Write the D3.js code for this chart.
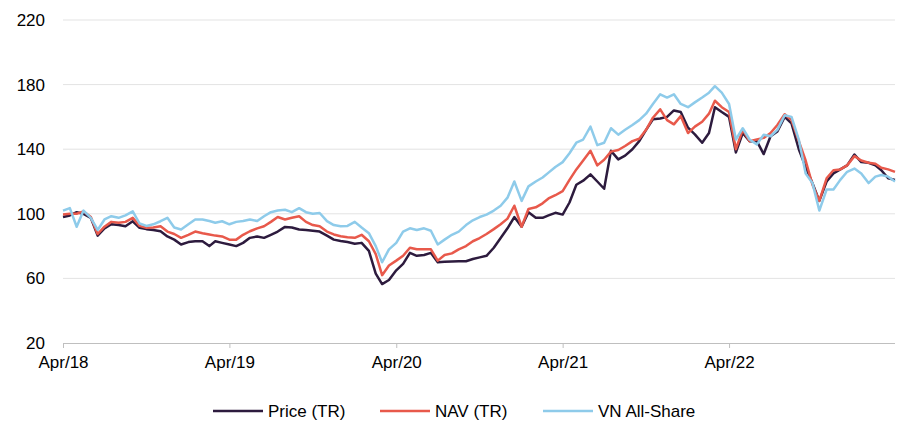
<!DOCTYPE html>
<html><head><meta charset="utf-8">
<script src="https://d3js.org/d3.v7.min.js"></script>
<style>body{margin:0;background:#fff;}svg{display:block;font-family:"Liberation Sans",Arial,sans-serif;}</style>
</head><body>
<svg id="chart" width="900" height="421"></svg>
<script>
// Half-monthly sample points from 1 Apr 2018 to 31 Mar 2023
const startDate = "2018-04-01";
const endDate = "2023-03-31";
const priceTR = [98,99,101,100,97.5,86.5,91,93.5,93,92.3,95.4,91.3,90.5,90,89.2,86,84,81,82.5,83,
  83,80,83,82,81,80,82,85.1,86,85.1,87,89,91.9,91.5,90.3,90,89.5,89,86.5,84,
  83.2,82.5,81.5,82,77,63,56.5,59,65,69,75.8,74,74.5,75.8,70,70.3,70.5,70.6,70.6,72,
  73,74,79,85,91,98,92,101,97.5,97.5,99,100.6,99.5,107,118,120.5,124.4,120,115.5,139,
  133.7,136,140,145,152,158.5,159,160,164,163,153.3,149.2,144,150,166,163,160,138,150,145,
  145,137,148,151,160,156,140,129,119,108,120,125,127.5,130,136.7,132,131.6,130,127,122,121];
const navTR = [99.5,100,100,101.5,98,87.5,92,95,94.5,95,97.5,92.5,91.3,91.5,92.3,89,87.5,85.1,87,89,
  88,87.2,86.5,86,84,84,87,89.2,91,92.3,95,98,96.5,97.5,98.5,95,93,92.3,89,87.2,
  86.1,85.5,85.1,87,83,75,62,68,71,74,79,78,78,78,71,74.5,75.5,78,80,83,
  85,87.5,90.5,93.5,97,105,92,103,104,106.5,109.5,111.5,114,121,127.5,133,139,130,133.5,138.5,
  139.5,142,145,146.5,152,159.5,164.7,158,155.4,160.5,150,154,157,162,170,166,163,140,152,145,
  146,147,150,155,161.6,158,145,133,118,108,122,127,127.5,130,135.7,133,131.6,131,128.5,127.5,126];
const vnAllShare = [102,103.5,92,102,97.5,90,96.5,98.5,97.5,99,101.5,94,92.5,93.5,95.4,97.5,91.5,90.3,93.5,96.5,
  96.5,95.5,94.5,95.4,93.5,95,95.5,96.5,95.5,98.5,101,102,102.5,101,103.5,101,100,100.5,95.5,93,
  92.3,92.5,95,91.5,88,80,70,78,82,89,91,90,91,89.5,81,84,87,89,93,96,
  98,99.5,102,105,110,120,108,117,120,122.5,125.5,129,132,137.5,144,146,154,142.5,144,153,
  149,152,155,158,162,168,174,172,174,168,166,169,172,175,179,175,168,146,153,146,
  143,149,148,152,161,160,146,125,119,102,115,115,121,126,128,125,119,123,124,123,120];
const yTicks = [20,60,100,140,180,220];
const xTickLabels = ["Apr/18","Apr/19","Apr/20","Apr/21","Apr/22"];
const seriesNames = ["Price (TR)","NAV (TR)","VN All-Share"];
const seriesColors = ["#2d1b3e","#e8594b","#8ecbea"];

// build dates
const parse = d3.timeParse("%Y-%m-%d");
const t0 = parse(startDate), t1 = parse(endDate);
const dates = priceTR.map((_, i) => {
  if (i === priceTR.length - 1) return t1;
  const m = Math.floor(i / 2);
  return new Date(t0.getFullYear(), t0.getMonth() + m, (i % 2) ? 16 : 1);
});
const series = [priceTR, navTR, vnAllShare];

const svg = d3.select("#chart");
const margin = {left: 63, right: 5, top: 20, bottom: 78};
const W = 900, H = 421;
const x = d3.scaleTime().domain([t0, t1]).range([margin.left, W - margin.right]);
const y = d3.scaleLinear().domain([20, 220]).range([H - margin.bottom, margin.top]);

// gridlines
svg.append("g").selectAll("line").data(yTicks.filter(v => v !== 20)).join("line")
  .attr("x1", margin.left).attr("x2", W - margin.right)
  .attr("y1", d => y(d)).attr("y2", d => y(d))
  .attr("stroke", "#e3e3e3").attr("stroke-width", 1);

// y axis
const yAxis = svg.append("g").attr("transform", `translate(${margin.left},0)`)
  .call(d3.axisLeft(y).tickValues(yTicks).tickSize(0).tickPadding(18));
yAxis.select(".domain").remove();
yAxis.selectAll("text").attr("font-size", 17).attr("fill", "#000")
  .attr("font-family", "Liberation Sans, Arial, sans-serif");

// x axis
const xTickDates = xTickLabels.map((_, i) => new Date(2018 + i, 3, 1));
const xAxis = svg.append("g").attr("transform", `translate(0,${y(20)})`)
  .call(d3.axisBottom(x).tickValues(xTickDates).tickSize(5).tickPadding(8)
    .tickFormat((d, i) => xTickLabels[i]));
xAxis.select(".domain").attr("stroke", "#bfbfbf").attr("d", `M${margin.left},0.5H${W - margin.right}`);
xAxis.selectAll(".tick line").attr("stroke", "#bfbfbf");
xAxis.selectAll("text").attr("font-size", 17).attr("fill", "#000")
  .attr("font-family", "Liberation Sans, Arial, sans-serif");

// lines
const line = d3.line().x((d, i) => x(dates[i])).y(d => y(d)).curve(d3.curveLinear);
svg.append("g").selectAll("path").data(series).join("path")
  .attr("d", d => line(d)).attr("fill", "none")
  .attr("stroke", (d, i) => seriesColors[i]).attr("stroke-width", 2.5)
  .attr("stroke-linejoin", "round");

// legend
const legX = [213, 380, 543];
const lg = svg.append("g").selectAll("g").data(seriesNames).join("g")
  .attr("transform", (d, i) => `translate(${legX[i]},411)`);
lg.append("line").attr("x1", 0).attr("x2", 50).attr("y1", 0).attr("y2", 0)
  .attr("stroke", (d, i) => seriesColors[i]).attr("stroke-width", 2.5);
lg.append("text").attr("x", 55).attr("y", 0).attr("dy", "0.35em")
  .attr("font-size", 17).text(d => d);
</script>
</body></html>
